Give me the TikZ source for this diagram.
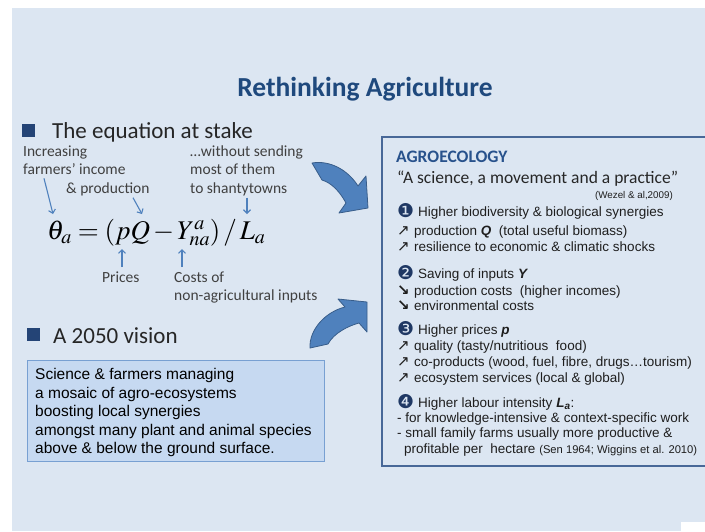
\documentclass[tikz,border=0pt]{standalone}
\usepackage{mathptmx}
\usepackage[no-math]{fontspec}
\setmainfont{Carlito}
\newfontfamily\arialfont{Liberation Sans}
\newfontfamily\dejafont{DejaVu Sans}
\usetikzlibrary{arrows.meta,positioning,backgrounds}

\definecolor{slidebg}{RGB}{220,230,242}
\definecolor{titleblue}{RGB}{31,73,125}
\definecolor{bulletblue}{RGB}{36,68,118}
\definecolor{arrowblue}{RGB}{79,129,189}
\definecolor{arrowline}{RGB}{56,93,138}
\definecolor{boxline}{RGB}{72,104,152}
\definecolor{agroblue}{RGB}{40,82,140}
\definecolor{visionfill}{RGB}{198,217,241}
\definecolor{visionline}{RGB}{120,160,210}
\definecolor{labelgray}{RGB}{64,64,64}
\definecolor{headgray}{RGB}{38,38,38}
\definecolor{rowgray}{RGB}{30,30,30}
\definecolor{numnavy}{RGB}{31,56,100}

\newcommand{\fsz}[1]{\fontsize{#1}{#1}\selectfont}
\newcommand{\upar}{\makebox[17pt][l]{\dejafont\fsz{15}↗}}
\newcommand{\dnar}{\makebox[17pt][l]{\dejafont\fsz{15}\bfseries ↘}}
\newcommand{\numb}[1]{\makebox[21pt][l]{\raisebox{-1pt}{\dejafont\fsz{19}\color{numnavy}#1}}}
\newcommand{\bi}[1]{\textbf{\textit{#1}}}

\begin{document}
\begin{tikzpicture}[x=1pt,y=-1pt,
    lbl/.style={inner sep=0pt,anchor=base west,text=labelgray,font=\fsz{15.5}},
    row/.style={inner sep=0pt,anchor=base west,text=rowgray,font=\arialfont\fsz{13.5}},
    vtext/.style={inner sep=0pt,anchor=base west,text=black,font=\arialfont\fsz{15.5}},
    heading/.style={inner sep=0pt,anchor=base west,text=headgray,font=\fsz{23}},
    bulletsq/.style={fill=bulletblue,minimum size=13pt,inner sep=0pt},
    eqarrow/.style={draw=arrowblue,line width=1.1pt,-{Straight Barb[length=3.5pt,width=7pt]}},
    bigarrow/.style={fill=arrowblue,draw=arrowline,line width=0.8pt,line join=round}]
    \useasboundingbox (0,0) rectangle (705,531);
    \clip (0,0) rectangle (705,531);

    %slide
    \fill[slidebg] (12,8) rectangle (705,531);
    \fill[white] (681,522) rectangle (705,531);
    \node[anchor=base,inner sep=0pt,text=titleblue,font=\fsz{27.5}\bfseries] (title) at (365,96) {Rethinking Agriculture};

    %the equation
    \node[bulletsq] (sq1) at (28.5,130.5) {};
    \node[heading] (stake) at (52,138) {The equation at stake};

    \node[lbl] (incr) at (23,156) {Increasing};
    \node[lbl] (farmers) at (23,174) {farmers’ income};
    \node[lbl] (prod) at (66,193) {\& production};
    \node[lbl] (without) at (190,156) {…without sending};
    \node[lbl] (most) at (190,174) {most of them};
    \node[lbl] (shanty) at (190,193) {to shantytowns};

    \node[anchor=base west,inner sep=0pt,text=black] (eq) at (47,239)
        {\fsz{27}$\theta_a\;{=}\;(pQ\,{-}\,Y^{a}_{na})\,/\,L_a$};
    \coordinate (thetaT) at (53,214);
    \coordinate (pqT) at (142,214);
    \coordinate (laT) at (247,214);
    \coordinate (pB) at (122,249);
    \coordinate (yB) at (182,249);

    \node[lbl] (prices) at (102,282) {Prices};
    \node[lbl] (costs) at (174,282) {Costs of};
    \node[lbl] (nonagri) at (174,300) {non-agricultural inputs};

    \draw[eqarrow] ([xshift=21pt,yshift=-4pt]farmers.south west) -- (thetaT);
    \draw[eqarrow] ([xshift=67pt,yshift=-2pt]prod.south west) -- (pqT);
    \draw[eqarrow] ([xshift=57pt,yshift=-2pt]shanty.south west) -- (laT);
    \draw[eqarrow] ([xshift=20pt,yshift=4pt]prices.north west) -- (pB);
    \draw[eqarrow] ([xshift=8pt,yshift=4pt]costs.north west) -- (yB);

    %big arrows
    \filldraw[bigarrow] (312,163) .. controls (330,160) and (348,170) .. (358,186)
        -- (366,176) -- (368,208) -- (339,213) -- (346,203)
        .. controls (340,192) and (332,183) .. (322,180) -- cycle;
    \filldraw[bigarrow] (310,348) .. controls (309,330) and (325,312) .. (345,307)
        -- (338,299) -- (367,302) -- (367,332) -- (359,323)
        .. controls (348,326) and (334,333) .. (328,344) -- cycle;

    %vision
    \node[bulletsq] (sq2) at (33,334.5) {};
    \node[heading] (vision) at (53,343) {A 2050 vision};
    \node[fill=visionfill,draw=visionline,line width=1.2pt,anchor=north west,
        minimum width=297pt,minimum height=101pt] (visbox) at (27,360) {};
    \foreach \t [count=\i] in {Science \& farmers managing,
        a mosaic of agro-ecosystems,
        boosting local synergies,
        amongst many plant and animal species,
        above \& below the ground surface.}
        \node[vtext] (vis\i) at (35,{361+18.5*\i}) {\t};

    %agroecology box
    \draw[boxline,line width=1.8pt] (382,137) rectangle (712,466);
    \node[inner sep=0pt,anchor=base west,text=agroblue,font=\fsz{17.5}\bfseries] (agro) at (396,162) {AGROECOLOGY};
    \node[inner sep=0pt,anchor=base west,text=headgray,font=\fsz{17.5}] (quote) at (397,183) {“A science, a movement and a practice”};
    \node[inner sep=0pt,anchor=base east,text=rowgray,font=\arialfont\fsz{9.8}] (wezel) at (673,198) {(Wezel \& al,2009)};

    \node[row] (r1) at (397,216) {\numb{❶}Higher biodiversity \& biological synergies};
    \node[row] (r2) at (397,235) {\upar production \bi{Q}\ \ (total useful biomass)};
    \node[row] (r3) at (397,251) {\upar resilience to economic \& climatic shocks};
    \node[row] (r4) at (397,278) {\numb{❷}Saving of inputs \bi{Y}};
    \node[row] (r5) at (397,295) {\dnar production costs\ \ (higher incomes)};
    \node[row] (r6) at (397,310) {\dnar environmental costs};
    \node[row] (r7) at (397,334) {\numb{❸}Higher prices \bi{p}};
    \node[row] (r8) at (397,350) {\upar quality (tasty/nutritious\ \ food)};
    \node[row] (r9) at (397,366) {\upar co-products (wood, fuel, fibre, drugs…tourism)};
    \node[row] (r10) at (397,382) {\upar ecosystem services (local \& global)};
    \node[row] (r11) at (397,407) {\numb{❹}Higher labour intensity \bi{L\textsubscript{a}}:};
    \node[row] (r12) at (397,422) {- for knowledge-intensive \& context-specific work};
    \node[row] (r13) at (397,437) {- small family farms usually more productive \&};
    \node[row] (r14) at (404,453) {profitable per\ \ hectare {\fsz{11.2}(Sen 1964; Wiggins et al. 2010)}};
\end{tikzpicture}
\end{document}
